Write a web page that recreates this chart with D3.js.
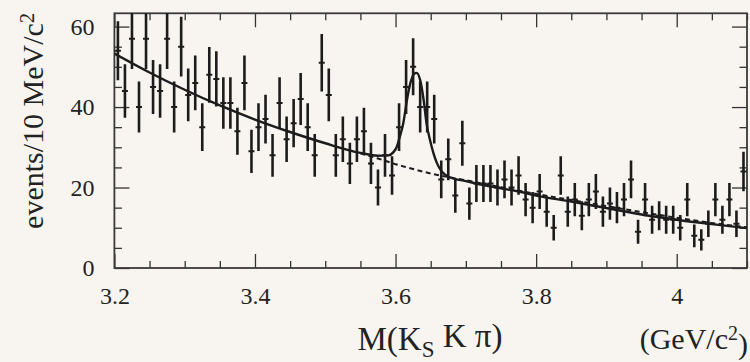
<!DOCTYPE html>
<html><head><meta charset="utf-8">
<script src="https://cdn.jsdelivr.net/npm/d3@7"></script>
<style>html,body{margin:0;padding:0;background:#f8f5f1;} svg{display:block;}
text{font-family:"Liberation Serif","Times New Roman",serif;}</style>
</head><body>
<svg id="c" width="750" height="362"></svg>
<script>
// ---- data ----
const binStart = 3.2, binWidth = 0.01;
const counts = [
  54,44,57,40,57,45,44,57,40,55,
  43,46,35,48,47,41,41,34,46,29,
  35,37,28,41,32,36,42,35,28,51,
  43,28,32,26,32,34,26,20,28,23,
  35,45,50,40,40,37,22,27,18,31,
  16,21,21,21,20,22,20,23,17,15,
  19,14,10,23,14,17,13,17,19,14,
  16,15,17,22,9,17,12,13,12,12,
  10,17,8,7,11,17,12,17,11,24
];
const fitMass  = [3.200,3.250,3.300,3.350,3.400,3.450,3.500,3.550,3.575,3.590,3.597,3.602,3.606,3.611,3.616,3.621,3.626,3.630,3.635,3.640,3.644,3.649,3.654,3.659,3.666,3.678,3.700,3.725,3.750,3.775,3.800,3.850,3.900,3.950,4.000,4.050,4.100];
const fitValue = [53.3,48.6,44.3,40.4,36.9,33.8,31.0,28.6,27.9,28.0,28.8,30.2,32.6,36.0,41.5,45.9,48.2,48.5,46.7,41.7,36.0,31.8,28.5,26.0,23.9,22.5,21.6,20.6,19.8,19.0,18.0,16.5,14.9,13.3,12.0,10.9,9.9];
const bgMass   = [3.550,3.575,3.600,3.625,3.650,3.675,3.700,3.750,3.800,3.850,3.900,3.950,4.000,4.050,4.100];
const bgValue  = [28.5,27.2,25.8,24.6,23.5,22.6,21.8,20.1,18.4,16.9,15.4,13.9,12.5,11.2,10.1];
const xMajorTicks = [3.2,3.4,3.6,3.8,4.0];
const xTickLabels = ["3.2","3.4","3.6","3.8","4"];
const yMajorTicks = [0,20,40,60];
const yTickLabels = ["0","20","40","60"];
const xDomain = [3.2, 4.1];
const yDomain = [0, 63.3];

// ---- layout ----
const L = 114.4, R = 747, T = 13.3, B = 268;
const svg = d3.select("#c");
const ink = "#1c1c1c";
const x = d3.scaleLinear().domain(xDomain).range([L, R]);
const y = d3.scaleLinear().domain(yDomain).range([B, T]);

svg.append("defs").append("clipPath").attr("id","plot")
  .append("rect").attr("x",L).attr("y",T).attr("width",R-L).attr("height",B-T);

const serif = "Liberation Serif, Times New Roman, serif";
const xMinor = d3.range(0,19).map(i => +(3.2 + i*0.05).toFixed(3)).filter(v => !xMajorTicks.some(m => Math.abs(m-v)<1e-6));
const yMinor = d3.range(0,13).map(i => i*5).filter(v => v%20 !== 0);

function styleAxis(g){
  g.attr("font-family", serif).attr("font-size", 24);
  g.select(".domain").remove();
  g.selectAll(".tick line").attr("stroke","#333").attr("stroke-width",1.3);
  g.selectAll(".tick text").attr("fill","#222");
}
// bottom
svg.append("g").attr("transform",`translate(0,${B})`)
  .call(d3.axisBottom(x).tickValues(xMajorTicks).tickSize(-14).tickPadding(19)
    .tickFormat((d,i)=>xTickLabels[i])).call(styleAxis);
svg.append("g").attr("transform",`translate(0,${B})`)
  .call(d3.axisBottom(x).tickValues(xMinor).tickSize(-7).tickFormat("")).call(styleAxis);
// top
svg.append("g").attr("transform",`translate(0,${T})`)
  .call(d3.axisTop(x).tickValues(xMajorTicks).tickSize(-14).tickFormat("")).call(styleAxis);
svg.append("g").attr("transform",`translate(0,${T})`)
  .call(d3.axisTop(x).tickValues(xMinor).tickSize(-7).tickFormat("")).call(styleAxis);
// left
svg.append("g").attr("transform",`translate(${L},0)`)
  .call(d3.axisLeft(y).tickValues(yMajorTicks).tickSize(-15).tickPadding(20)
    .tickFormat((d,i)=>yTickLabels[i])).call(styleAxis);
svg.append("g").attr("transform",`translate(${L},0)`)
  .call(d3.axisLeft(y).tickValues(yMinor).tickSize(-7.5).tickFormat("")).call(styleAxis);
// right
svg.append("g").attr("transform",`translate(${R},0)`)
  .call(d3.axisRight(y).tickValues(yMajorTicks).tickSize(-15).tickFormat("")).call(styleAxis);
svg.append("g").attr("transform",`translate(${R},0)`)
  .call(d3.axisRight(y).tickValues(yMinor).tickSize(-7.5).tickFormat("")).call(styleAxis);

// frame
svg.append("rect").attr("x",L).attr("y",T).attr("width",R-L).attr("height",B-T)
  .attr("fill","none").attr("stroke","#3a3a3a").attr("stroke-width",1.8);

const plot = svg.append("g").attr("clip-path","url(#plot)");

// background (dashed)
const line = d3.line().x(d=>x(d[0])).y(d=>y(d[1])).curve(d3.curveMonotoneX);
plot.append("path").datum(bgMass.map((m,i)=>[m,bgValue[i]]))
  .attr("d",line).attr("fill","none").attr("stroke",ink).attr("stroke-width",2)
  .attr("stroke-dasharray","5,3.5");
// total fit
plot.append("path").datum(fitMass.map((m,i)=>[m,fitValue[i]]))
  .attr("d",line).attr("fill","none").attr("stroke",ink).attr("stroke-width",2.4);

// data points with sqrt(N) error bars
const pts = counts.map((n,i)=>({m: binStart + (i+0.5)*binWidth, n}));
const pg = plot.append("g");
pg.selectAll("line.ev").data(pts).join("line").attr("class","ev")
  .attr("x1",d=>x(d.m)).attr("x2",d=>x(d.m))
  .attr("y1",d=>y(d.n-Math.sqrt(d.n))).attr("y2",d=>y(d.n+Math.sqrt(d.n)))
  .attr("stroke",ink).attr("stroke-width",2.6);
pg.selectAll("line.eh").data(pts).join("line").attr("class","eh")
  .attr("x1",d=>x(d.m)-3).attr("x2",d=>x(d.m)+3)
  .attr("y1",d=>y(d.n)).attr("y2",d=>y(d.n))
  .attr("stroke",ink).attr("stroke-width",2);

// titles
const yt = svg.append("text").attr("transform","translate(43,121) rotate(-90)")
  .attr("text-anchor","middle").attr("fill","#222")
  .attr("font-family",serif).attr("font-size",30);
yt.append("tspan").text("events/10 MeV/c");
yt.append("tspan").attr("dy","-0.45em").attr("font-size",20).text("2");

const xt = svg.append("text").attr("x",430).attr("y",350).attr("text-anchor","middle")
  .attr("fill","#222").attr("font-family",serif).attr("font-size",33);
xt.append("tspan").text("M(K");
xt.append("tspan").attr("dy","0.3em").attr("font-size",23).text("S");
xt.append("tspan").attr("dy","-0.3em").text(" K π)");

const ut = svg.append("text").attr("x",748).attr("y",349).attr("text-anchor","end")
  .attr("fill","#222").attr("font-family",serif).attr("font-size",30);
ut.append("tspan").text("(GeV/c");
ut.append("tspan").attr("dy","-0.45em").attr("font-size",20).text("2");
ut.append("tspan").attr("dy","0.45em").text(")");
</script>
</body></html>
